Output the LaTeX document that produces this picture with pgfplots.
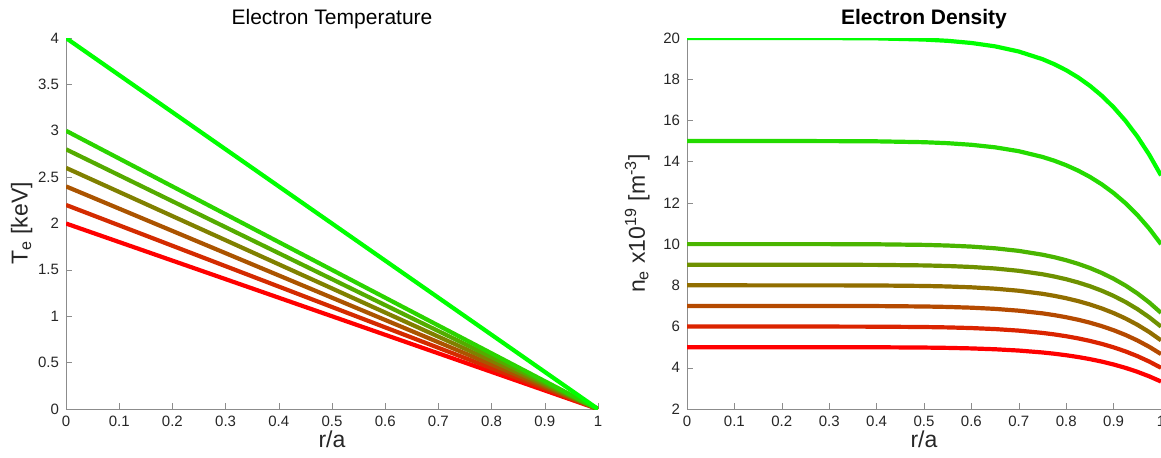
\documentclass[border=0pt]{standalone}
\usepackage{fontspec}
\setmainfont{Liberation Sans}
\usepackage{pgfplots}
\usepackage{pgfplotstable}
\pgfplotsset{compat=1.18}

% density profiles, r/a and n_e for n0 = 5,6,7,8,9,10,15,20
\pgfplotstableread{
r     na     nb     nc     nd     ne     nf     ng     nh
0     5      6      7      8      9      10     15     20
0.3   4.9994 5.9992 6.9991 7.9990 8.9988 9.9987 14.998 19.997
0.4   4.9957 5.9948 6.9940 7.9931 8.9923 9.9914 14.987 19.983
0.5   4.9816 5.9779 6.9742 7.9706 8.9669 9.9632 14.945 19.926
0.55  4.9658 5.9590 6.9521 7.9453 8.9384 9.9316 14.897 19.863
0.6   4.9398 5.9278 6.9157 7.9037 8.8916 9.8796 14.819 19.759
0.65  4.8987 5.8784 6.8581 7.8378 8.8176 9.7973 14.696 19.595
0.7   4.8359 5.8031 6.7703 7.7374 8.7046 9.6718 14.508 19.344
0.75  4.7432 5.6918 6.6404 7.5890 8.5377 9.4863 14.229 18.973
0.775 4.6820 5.6184 6.5548 7.4912 8.4276 9.3640 14.046 18.728
0.8   4.6092 5.5310 6.4528 7.3746 8.2965 9.2183 13.827 18.437
0.825 4.5227 5.4272 6.3317 7.2362 8.1408 9.0453 13.568 18.091
0.85  4.4205 5.3046 6.1887 7.0728 7.9569 8.8410 13.262 17.682
0.875 4.3004 5.1604 6.0205 6.8806 7.7406 8.6007 12.901 17.201
0.9   4.1597 4.9916 5.8235 6.6554 7.4874 8.3193 12.479 16.639
0.925 3.9960 4.7952 5.5944 6.3936 7.1928 7.9920 11.988 15.984
0.95  3.8059 4.5670 5.3282 6.0894 6.8505 7.6117 11.418 15.223
0.975 3.5862 4.3034 5.0206 5.7378 6.4551 7.1723 10.758 14.345
1     3.3333 4.0000 4.6667 5.3333 6.0000 6.6667 10.000 13.333
}\dens

\pgfplotsset{
  mstyle/.style={
    scale only axis, height=185.5pt,
    axis lines=left, axis line style={black!45,-},
    tick style={black!45}, tick align=inside, major tick length=3pt,
    xmin=0, xmax=1,
    xtick={0,0.1,0.2,0.3,0.4,0.5,0.6,0.7,0.8,0.9,1},
    /pgf/number format/assume math mode=true,
    /pgf/number format/fixed,
    tick label style={font=\fontsize{7.5}{9}\selectfont, black!85},
    label style={font=\fontsize{11.5}{13}\selectfont, black!85},
    xlabel={r/a},
    xlabel style={yshift=5pt},
    title style={font=\fontsize{10.5}{12}\selectfont, yshift=-5pt},
    every axis plot/.append style={line width=2.1pt},
  }
}

\begin{document}
\begin{tikzpicture}
\begin{axis}[mstyle, width=266pt,
  ymin=0, ymax=4, ytick={0,0.5,1,1.5,2,2.5,3,3.5,4},
  title={Electron Temperature},
  ylabel={T\textsubscript{e} [keV]},
  ylabel style={yshift=-4pt}]
\addplot[red] coordinates {(0,2) (1,0)};
\addplot[red!83!green] coordinates {(0,2.2) (1,0)};
\addplot[red!67!green] coordinates {(0,2.4) (1,0)};
\addplot[red!50!green] coordinates {(0,2.6) (1,0)};
\addplot[red!33!green] coordinates {(0,2.8) (1,0)};
\addplot[red!17!green] coordinates {(0,3) (1,0)};
\addplot[green] coordinates {(0,4) (1,0)};
\end{axis}

\begin{axis}[mstyle, width=237pt, xshift=310.5pt,
  ymin=2, ymax=20, ytick={2,4,6,8,10,12,14,16,18,20},
  title={\textbf{Electron Density}},
  ylabel={n\textsubscript{e} x10\textsuperscript{19} [m\textsuperscript{-3}]}]
\addplot[red] table[x=r,y=na] {\dens};
\addplot[red!86!green] table[x=r,y=nb] {\dens};
\addplot[red!71!green] table[x=r,y=nc] {\dens};
\addplot[red!57!green] table[x=r,y=nd] {\dens};
\addplot[red!43!green] table[x=r,y=ne] {\dens};
\addplot[red!29!green] table[x=r,y=nf] {\dens};
\addplot[red!14!green] table[x=r,y=ng] {\dens};
\addplot[green] table[x=r,y=nh] {\dens};
\end{axis}
\pgfresetboundingbox
\path (-33pt,-24pt) rectangle (547.5pt,204.5pt);
\end{tikzpicture}
\end{document}
